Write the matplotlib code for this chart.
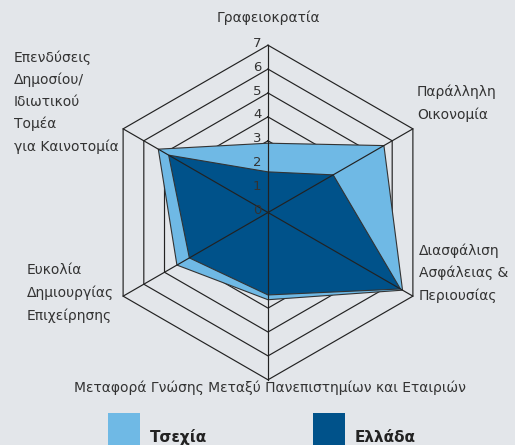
import numpy as np
import matplotlib
matplotlib.use("Agg")
import matplotlib.pyplot as plt
from matplotlib.patches import Rectangle

# axes clockwise from the top
categories = ["Γραφειοκρατία",
              "Παράλληλη\nΟικονομία",
              "Διασφάλιση\nΑσφάλειας &\nΠεριουσίας",
              "Μεταφορά Γνώσης Μεταξύ Πανεπιστημίων και Εταιριών",
              "Ευκολία\nΔημιουργίας\nΕπιχείρησης",
              "Επενδύσεις\nΔημοσίου/\nΙδιωτικού\nΤομέα\nγια Καινοτομία"]
czech = [2.9, 5.6, 6.5, 3.65, 4.4, 5.3]
greece = [1.7, 3.15, 6.4, 3.45, 3.8, 4.8]
ticks = [0, 1, 2, 3, 4, 5, 6, 7]
series_names = ["Τσεχία", "Ελλάδα"]

bg = "#e3e6ea"
light = "#6fb9e5"
dark = "#00528a"
W, H = 515, 445
cx, cy, unit = 268, 212.5, 23.9

fig = plt.figure(figsize=(W / 100, H / 100), dpi=100, facecolor=bg)
ax = fig.add_axes([0, 0, 1, 1])
ax.set_facecolor(bg)
ax.set_xlim(-cx / unit, (W - cx) / unit)
ax.set_ylim(-(H - cy) / unit, cy / unit)
ax.axis("off")

n = len(categories)
ang = np.pi / 2 - np.arange(n) * 2 * np.pi / n
cosa, sina = np.cos(ang), np.sin(ang)

# hexagon rings
for t in ticks[1:]:
    ax.plot(np.append(t * cosa, t * cosa[0]), np.append(t * sina, t * sina[0]),
            color="#222222", lw=0.85, zorder=1)

for vals, col, z in [(czech, light, 2), (greece, dark, 3)]:
    v = np.array(vals)
    ax.fill(v * cosa, v * sina, facecolor=col, edgecolor="#333333", lw=0.8, zorder=z)

# spokes on top
rmax = ticks[-1]
for c, s in zip(cosa, sina):
    ax.plot([0, rmax * c], [0, rmax * s], color="#222222", lw=0.85, zorder=4)

for t in ticks:
    ax.text(-0.28, t + 0.08, str(t), ha="right", va="center", fontsize=9.5,
            color="#333333", zorder=5)

font = "DejaVu Sans"
fs = 10
tc = "#333333"


def ftext(x, y, s, **kw):
    fig.text(x / W, 1 - y / H, s, fontsize=fs, color=tc, family=font,
             linespacing=1.7, **kw)


ftext(cx, 18, categories[0], ha="center", va="center")
ftext(417, 103, categories[1], ha="left", va="center")
ftext(419, 273, categories[2], ha="left", va="center")
ftext(cx + 2, 388, categories[3], ha="center", va="center")
ftext(27, 293, categories[4], ha="left", va="center")
ftext(14, 102, categories[5], ha="left", va="center")

# legend
for x0, col, name in [(108, light, series_names[0]), (313, dark, series_names[1])]:
    fig.patches.append(Rectangle((x0 / W, 0), 32 / W, 32 / H, transform=fig.transFigure,
                                 facecolor=col, edgecolor="none"))
    fig.text((x0 + 42) / W, 1 - 437 / H, name, fontsize=11, fontweight="bold",
             color="#222222", ha="left", va="center", family=font)

fig.savefig("out.png", dpi=100, facecolor=bg)
